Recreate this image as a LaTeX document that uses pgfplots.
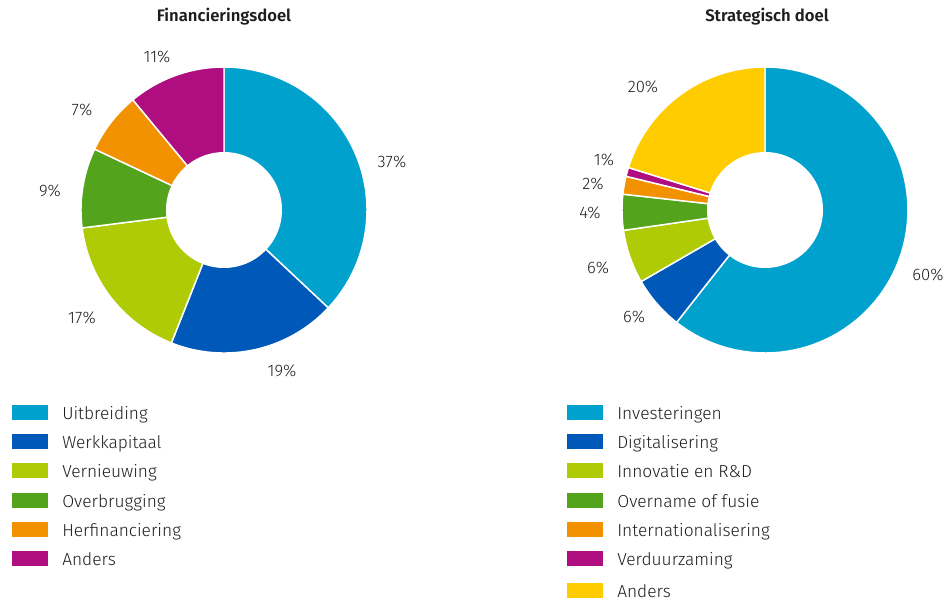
\documentclass[border=0pt]{standalone}
\usepackage{pgfplots}
\pgfplotsset{compat=1.18}
\usepackage{pgfplotstable}
\usepackage{fontspec}
\setmainfont{Fira Sans}[UprightFont=* Light, BoldFont=* SemiBold]

\definecolor{cCyan}{HTML}{00A1CD}
\definecolor{cBlue}{HTML}{0058B8}
\definecolor{cLime}{HTML}{AFCB05}
\definecolor{cGreen}{HTML}{53A31D}
\definecolor{cOrange}{HTML}{F39200}
\definecolor{cMagenta}{HTML}{AF0E80}
\definecolor{cYellow}{HTML}{FFCC00}
\definecolor{txt}{HTML}{1E1E1E}

% label, value, colour, label x, label y, legend y (pixel coordinates)
\pgfplotstableread[col sep=comma]{
label,value,color,px,py,gy
Uitbreiding,37,cCyan,392,162,412
Werkkapitaal,19,cBlue,282,371,441
Vernieuwing,17,cLime,82,318,470
Overbrugging,9,cGreen,50,191,500
Herfinanciering,7,cOrange,82,110,529
Anders,11,cMagenta,157,57,558
}\finTable

\pgfplotstableread[col sep=comma]{
label,value,color,px,py,gy
Investeringen,60,cCyan,928,275,412
Digitalisering,6,cBlue,634,317,441
{Innovatie en R\&D},6,cLime,598,268,470
Overname of fusie,4,cGreen,590,213,500
Internationalisering,2,cOrange,593,184,529
Verduurzaming,1,cMagenta,604,160,558
Anders,20,cYellow,643,87,590
}\strTable

% #1 table, #2 cx, #3 cy, #4 legend swatch x
\newcommand\donut[4]{%
  \pgfplotstablegetrowsof{#1}\pgfmathtruncatemacro\nrows{\pgfplotsretval-1}%
  \def\tot{0}%
  \pgfplotsforeachungrouped \i in {0,...,\nrows}{%
    \pgfplotstablegetelem{\i}{value}\of{#1}%
    \pgfmathsetmacro\tot{\tot+\pgfplotsretval}}%
  \def\cum{0}%
  \pgfplotsforeachungrouped \i in {0,...,\nrows}{%
    \pgfplotstablegetelem{\i}{value}\of{#1}\let\sv\pgfplotsretval
    \pgfplotstablegetelem{\i}{color}\of{#1}\let\sc\pgfplotsretval
    \pgfplotstablegetelem{\i}{label}\of{#1}\let\slab\pgfplotsretval
    \pgfplotstablegetelem{\i}{px}\of{#1}\let\spx\pgfplotsretval
    \pgfplotstablegetelem{\i}{py}\of{#1}\let\spy\pgfplotsretval
    \pgfplotstablegetelem{\i}{gy}\of{#1}\let\sgy\pgfplotsretval
    \pgfmathsetmacro\sa{360*(\cum/\tot)}%
    \pgfmathsetmacro\cum{\cum+\sv}%
    \pgfmathsetmacro\sb{360*(\cum/\tot)}%
    \pgfmathtruncatemacro\svi{\sv}%
    \pgfmathsetmacro\gya{\sgy-7.5}%
    \pgfmathsetmacro\gyb{\sgy+7.5}%
    \pgfmathsetmacro\gyt{\sgy+7}%
    \pgfmathsetmacro\sxb{#4+36}%
    \pgfmathsetmacro\stx{#4+50}%
    \edef\cmd{%
      \noexpand\addplot[fill=\sc, draw=white, line width=1.1pt, line join=round,
        domain=\sa:\sb, samples=80, variable=\noexpand\t]
        ({#2+143*sin(\noexpand\t)},{#3-143*cos(\noexpand\t)}) -- (axis cs:#2,#3) -- cycle;
      \noexpand\node[text=txt, font=\noexpand\fontsize{12.5}{14}\noexpand\selectfont]
        at (axis cs:\spx,\spy) {\svi\noexpand\%};
      \noexpand\fill[\sc] (axis cs:#4,\gya) rectangle (axis cs:\sxb,\gyb);
      \noexpand\node[text=txt, anchor=base west, inner sep=0pt,
        font=\noexpand\fontsize{13}{15}\noexpand\selectfont]
        at (axis cs:\stx,\gyt) {\unexpanded\expandafter{\slab}};
    }%
    \cmd}%
  \addplot[fill=white, draw=none, domain=0:360, samples=120]
    ({#2+58*sin(x)},{#3-58*cos(x)}) -- cycle;
}

\begin{document}
\begin{tikzpicture}
\begin{axis}[
  x=0.75pt, y=0.75pt,
  xmin=0, xmax=949, ymin=0, ymax=612,
  y dir=reverse,
  hide axis, clip=false,
  scale only axis,
]
\path (axis cs:0,0) rectangle (axis cs:949,612);
\donut{\finTable}{224}{210}{12}
\donut{\strTable}{765}{210}{567}
\node[text=txt, font=\bfseries\fontsize{12.5}{15}\selectfont] at (axis cs:224,17) {Financieringsdoel};
\node[text=txt, font=\bfseries\fontsize{12.5}{15}\selectfont] at (axis cs:767,17) {Strategisch doel};
\end{axis}
\end{tikzpicture}
\end{document}
